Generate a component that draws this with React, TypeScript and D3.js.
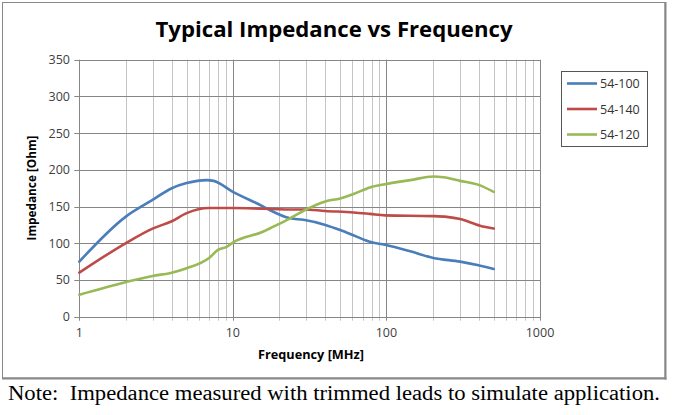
import React, { useEffect, useRef } from 'react';
import * as d3 from 'd3';

// frequencies [MHz] and impedance [Ohm]
const freq100 = [1, 2, 3, 4, 5, 6.75, 7.5, 10, 15.8, 17.5, 23.6, 28.8, 40, 50, 64, 78, 98, 143, 202, 302, 398, 500];
const z100 = [75, 136, 159, 175, 182, 186, 185, 170, 150, 145, 134, 132, 125, 118, 109, 102, 98, 89, 80, 75, 70, 65];

const freq140 = [1, 2, 3, 4, 5, 7, 10, 15.8, 23.6, 28.8, 40, 61, 78, 98, 202, 247, 302, 407, 500];
const z140 = [60, 100, 120, 130, 141, 148, 148, 147, 146, 146, 144, 142, 140, 138, 137, 136, 133, 124, 120];

const freq120 = [1, 2, 3, 4, 5, 7, 8, 9.1, 10, 15.8, 17.5, 23.6, 30, 40, 50, 61, 78, 98, 143, 202, 235, 302, 398, 500];
const z120 = [30, 47, 55.5, 60, 66, 80, 91, 95, 101, 116, 120.5, 134, 146, 157, 161, 167, 176, 180.5, 186, 191, 190, 185, 179.5, 170];

const seriesNames = ['54-100', '54-140', '54-120'];
const seriesColors = ['#4A7EBB', '#BE4B48', '#98B954'];
const yTicks = [0, 50, 100, 150, 200, 250, 300, 350];
const xTicks = [1, 10, 100, 1000];

const W = 674;
const H = 415;

const App: React.FC = () => {
  const ref = useRef<SVGSVGElement>(null);

  useEffect(() => {
    const svg = d3.select(ref.current);
    svg.selectAll('*').remove();

    const x = d3.scaleLog().domain([1, 1000]).range([79.3, 540]);
    const y = d3.scaleLinear().domain([0, 350]).range([316.7, 59.7]);
    const sans = 'Open Sans, Noto Sans, sans-serif';

    // chart frame
    svg.append('rect').attr('x', 2.5).attr('y', 2.5).attr('width', 662.5).attr('height', 375.5)
      .attr('fill', '#fff').attr('stroke', '#888').attr('stroke-width', 1);
    svg.append('line').attr('x1', 665.5).attr('x2', 665.5).attr('y1', 2).attr('y2', 379.5)
      .attr('stroke', '#888').attr('stroke-width', 2);
    svg.append('line').attr('x1', 2).attr('x2', 666.5).attr('y1', 378.5).attr('y2', 378.5)
      .attr('stroke', '#888').attr('stroke-width', 2);

    svg.append('text').attr('x', 334).attr('y', 37).attr('text-anchor', 'middle')
      .attr('font-family', sans).attr('font-weight', 'bold').attr('font-size', 21)
      .attr('textLength', 357).attr('lengthAdjust', 'spacingAndGlyphs')
      .attr('fill', '#000').text('Typical Impedance vs Frequency');

    // grid
    const minor: number[] = [];
    for (let d = 1; d < 1000; d *= 10) for (let k = 2; k <= 9; k++) minor.push(d * k);
    const g = svg.append('g');
    g.selectAll('.minor').data(minor).join('line')
      .attr('x1', d => Math.round(x(d)) + 0.5).attr('x2', d => Math.round(x(d)) + 0.5)
      .attr('y1', y(350)).attr('y2', y(0) + 4).attr('stroke', '#c4c4c4').attr('stroke-width', 1);
    g.selectAll('.major').data(xTicks).join('line')
      .attr('x1', d => Math.round(x(d)) + 0.5).attr('x2', d => Math.round(x(d)) + 0.5)
      .attr('y1', y(350)).attr('y2', y(0) + 4).attr('stroke', '#868686').attr('stroke-width', 1);
    g.selectAll('.hgrid').data(yTicks).join('line')
      .attr('x1', x(1) - 5).attr('x2', x(1000)).attr('y1', d => Math.round(y(d)) + 0.5).attr('y2', d => Math.round(y(d)) + 0.5)
      .attr('stroke', '#868686').attr('stroke-width', 1);

    // tick labels
    svg.append('g').selectAll('text').data(yTicks).join('text')
      .attr('x', 70).attr('y', d => y(d) + 4.5).attr('text-anchor', 'end')
      .attr('font-family', sans).attr('font-size', 12.5).attr('fill', '#404040').text(d => d);
    svg.append('g').selectAll('text').data(xTicks).join('text')
      .attr('x', d => x(d)).attr('y', 337).attr('text-anchor', 'middle')
      .attr('font-family', sans).attr('font-size', 12.5).attr('fill', '#404040').text(d => d);

    // axis titles
    svg.append('text').attr('x', 311).attr('y', 359).attr('text-anchor', 'middle')
      .attr('font-family', sans).attr('font-weight', 'bold').attr('font-size', 11.5)
      .attr('textLength', 106).attr('lengthAdjust', 'spacingAndGlyphs').text('Frequency [MHz]');
    svg.append('text').attr('transform', 'translate(36,188) rotate(-90)').attr('text-anchor', 'middle')
      .attr('font-family', sans).attr('font-weight', 'bold').attr('font-size', 11.5)
      .attr('textLength', 105).attr('lengthAdjust', 'spacingAndGlyphs').text('Impedance [Ohm]');

    // series
    const series = [
      { f: freq100, z: z100 },
      { f: freq140, z: z140 },
      { f: freq120, z: z120 },
    ];
    const line = d3.line<[number, number]>()
      .x(d => x(d[0])).y(d => y(d[1])).curve(d3.curveMonotoneX);
    series.forEach((s, i) => {
      svg.append('path').datum(s.f.map((f, j) => [f, s.z[j]] as [number, number]))
        .attr('d', line).attr('fill', 'none').attr('stroke', seriesColors[i])
        .attr('stroke-width', 2.6).attr('stroke-linejoin', 'round').attr('stroke-linecap', 'round');
    });

    // legend
    svg.append('rect').attr('x', 561.5).attr('y', 71.5).attr('width', 86).attr('height', 75)
      .attr('fill', '#fff').attr('stroke', '#555').attr('stroke-width', 1);
    const lg = svg.append('g').selectAll('g').data(seriesNames).join('g')
      .attr('transform', (_, i) => `translate(0,${83.5 + i * 25.5})`);
    lg.append('line').attr('x1', 567).attr('x2', 597).attr('y1', 0).attr('y2', 0)
      .attr('stroke', (_, i) => seriesColors[i]).attr('stroke-width', 2.6);
    lg.append('text').attr('x', 600).attr('y', 4.5).attr('font-family', sans)
      .attr('font-size', 12.5).attr('fill', '#333').text(d => d);

    // note below the chart
    svg.append('text').attr('x', 8).attr('y', 400).style('white-space', 'pre')
      .attr('font-family', 'Liberation Serif, Times New Roman, serif').attr('font-size', 20)
      .attr('textLength', 652).attr('lengthAdjust', 'spacingAndGlyphs')
      .attr('fill', '#000').text('Note:  Impedance measured with trimmed leads to simulate application.');
  }, []);

  return (
    <svg ref={ref} width={W} height={H}
      style={{ position: 'absolute', left: 0, top: 0, background: '#fff' }} />
  );
};

export default App;
